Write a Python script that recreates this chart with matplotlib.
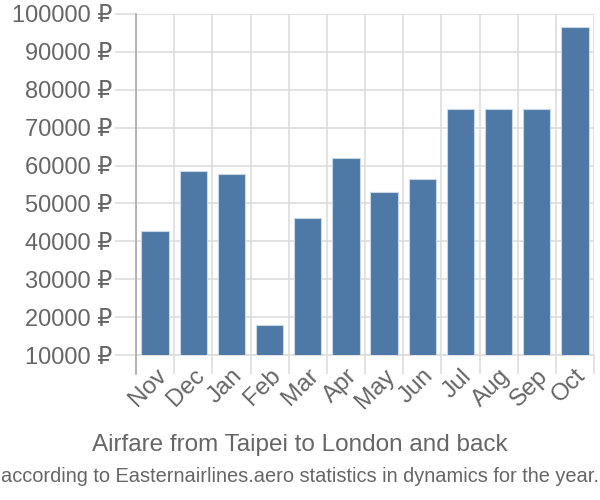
import matplotlib
matplotlib.use("Agg")
import matplotlib.pyplot as plt
import matplotlib.transforms as mtransforms
from matplotlib.lines import Line2D

months = ["Nov", "Dec", "Jan", "Feb", "Mar", "Apr", "May", "Jun", "Jul", "Aug", "Sep", "Oct"]
prices = [42800, 58500, 57900, 18000, 46100, 62000, 53100, 56400, 75000, 75000, 75000, 96500]
yticks = [10000, 20000, 30000, 40000, 50000, 60000, 70000, 80000, 90000, 100000]
title = "Airfare from Taipei to London and back"
subtitle = "according to Easternairlines.aero statistics in dynamics for the year."

plt.rcParams['font.family'] = ['Liberation Sans', 'DejaVu Sans']

fig = plt.figure(figsize=(6, 5), dpi=100)
ax = fig.add_axes([136/600, 1-355/500, (594-136)/600, (355-14)/500])

x = list(range(len(months)))
ax.bar(x, prices, width=0.72, color="#4e79a7", edgecolor="#c9d6e6", linewidth=0.8, zorder=3)

ax.set_xlim(-0.5, len(months)-0.5)
ax.set_ylim(10000, 100000)

ax.set_yticks(yticks)
ax.set_yticklabels([f"{v} ₽" for v in yticks])
ax.set_xticks(x)
ax.set_xticklabels(months, rotation=45, ha="right", va="top", rotation_mode="anchor")
ax.set_xticks([i - 0.5 for i in range(len(months)+1)], minor=True)

ax.tick_params(axis="x", which="major", length=0, pad=7, labelsize=17.5, labelcolor="#666666")
ax.tick_params(axis="x", which="minor", length=14, width=1.2, color="#dddddd")
ax.tick_params(axis="y", which="major", length=15, width=1.2, color="#dddddd", pad=2,
               labelsize=17, labelcolor="#666666")

ax.grid(True, axis="y", which="major", color="#dddddd", linewidth=1.2, zorder=0)
ax.grid(True, axis="x", which="minor", color="#dddddd", linewidth=1.2, zorder=0)

for s in ["top", "right"]:
    ax.spines[s].set_visible(False)
ax.spines["bottom"].set_color("#dddddd")
ax.spines["bottom"].set_linewidth(1.2)
ax.spines["left"].set_color("#aaaaaa")
ax.spines["left"].set_linewidth(1.2)

trans = mtransforms.blended_transform_factory(ax.transAxes, ax.transAxes)
ln = Line2D([0, 0], [0, -19/341], transform=trans, color="#aaaaaa", linewidth=1.2, clip_on=False, zorder=4)
ax.add_line(ln)

fig.text(0.5, 1-445/500, title, ha="center", va="center", fontsize=17.5, color="#666666")
fig.text(0.5, 1-476/500, subtitle, ha="center", va="center", fontsize=14.4, color="#666666")

fig.savefig("out.png", dpi=100)
